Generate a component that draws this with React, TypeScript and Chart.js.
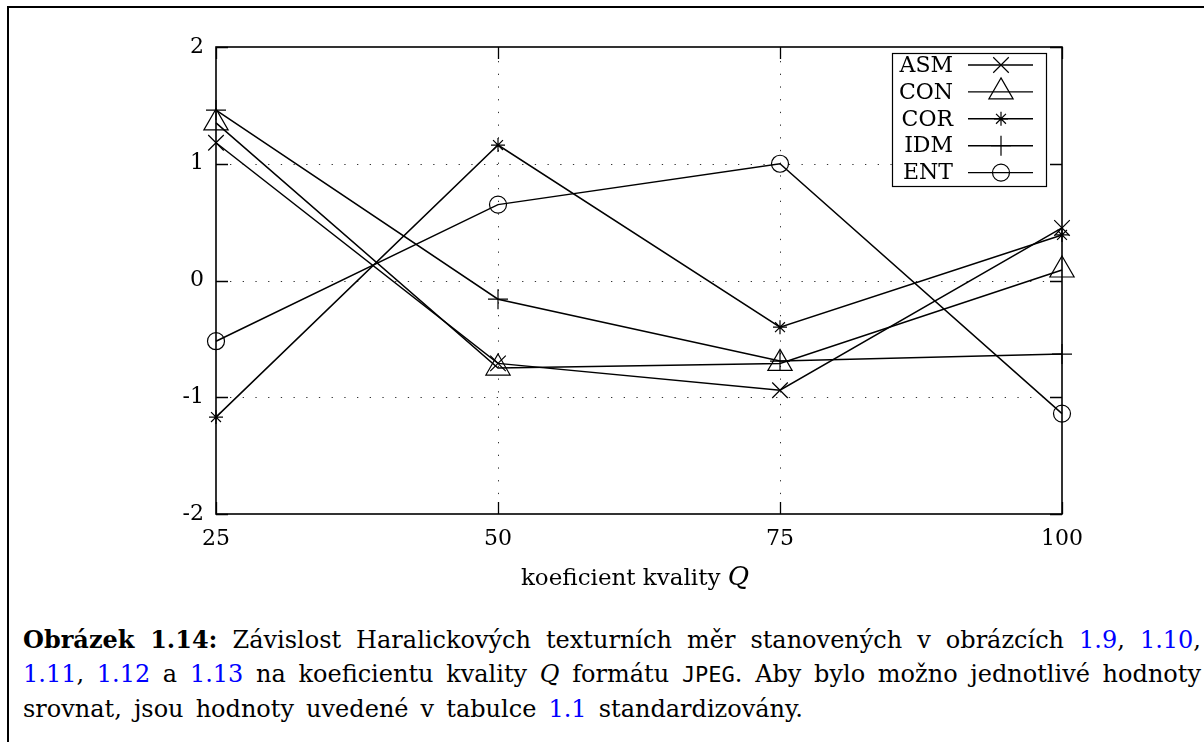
import React, { useEffect, useRef } from "react";
import { Chart, registerables } from "chart.js";

Chart.register(...registerables);

// ---- data ----
const qualityLevels = [25, 50, 75, 100];
const seriesLabels = ["ASM", "CON", "COR", "IDM", "ENT"];
const asmValues = [1.18, -0.71, -0.94, 0.45];
const conValues = [1.35, -0.75, -0.71, 0.09];
const corValues = [-1.17, 1.16, -0.4, 0.39];
const idmValues = [1.46, -0.16, -0.69, -0.63];
const entValues = [-0.52, 0.65, 1.0, -1.14];
const xTickValues = [25, 50, 75, 100];
const yTickValues = [-2, -1, 0, 1, 2];

const seriesValues = [asmValues, conValues, corValues, idmValues, entValues];
const markerStyles = ["crossRot", "triangle", "star", "cross", "circle"];
const markerRadii = [11, 14, 7, 10, 8.5];

const FONT = '"DejaVu Serif", serif';

function drawMarker(ctx: CanvasRenderingContext2D, style: string, x: number, y: number, r: number) {
  ctx.beginPath();
  const d = r * Math.SQRT1_2;
  if (style === "crossRot" || style === "star") {
    ctx.moveTo(x - d, y - d);
    ctx.lineTo(x + d, y + d);
    ctx.moveTo(x - d, y + d);
    ctx.lineTo(x + d, y - d);
  }
  if (style === "cross" || style === "star") {
    ctx.moveTo(x - r, y);
    ctx.lineTo(x + r, y);
    ctx.moveTo(x, y - r);
    ctx.lineTo(x, y + r);
  }
  if (style === "triangle") {
    let rad = 0;
    ctx.moveTo(x + Math.sin(rad) * r, y - Math.cos(rad) * r);
    rad += (2 * Math.PI) / 3;
    ctx.lineTo(x + Math.sin(rad) * r, y - Math.cos(rad) * r);
    rad += (2 * Math.PI) / 3;
    ctx.lineTo(x + Math.sin(rad) * r, y - Math.cos(rad) * r);
    ctx.closePath();
  }
  if (style === "circle") {
    ctx.arc(x, y, r, 0, Math.PI * 2);
  }
  ctx.stroke();
}

const framePlugin = {
  id: "gnuFrame",
  beforeDatasetsDraw(chart: any) {
    const { ctx, chartArea: a, scales } = chart;
    const xs = scales.x;
    const ys = scales.y;
    ctx.save();
    // dotted grid
    ctx.strokeStyle = "#333";
    ctx.lineWidth = 1;
    ctx.setLineDash([1.3, 11.4]);
    yTickValues.forEach((v) => {
      if (v <= ys.min || v >= ys.max) return;
      const py = Math.round(ys.getPixelForValue(v)) + 0.5;
      ctx.beginPath();
      ctx.moveTo(a.left + 14, py);
      ctx.lineTo(a.right - 14, py);
      ctx.stroke();
    });
    xTickValues.forEach((v) => {
      if (v <= xs.min || v >= xs.max) return;
      const px = Math.round(xs.getPixelForValue(v)) + 0.5;
      ctx.beginPath();
      ctx.moveTo(px, a.top + 14);
      ctx.lineTo(px, a.bottom - 14);
      ctx.stroke();
    });
    ctx.setLineDash([]);
    // inward major ticks on all four sides
    ctx.strokeStyle = "#000";
    ctx.lineWidth = 1.3;
    ctx.beginPath();
    yTickValues.forEach((v) => {
      const py = Math.round(ys.getPixelForValue(v)) + 0.5;
      ctx.moveTo(a.left, py);
      ctx.lineTo(a.left + 12, py);
      ctx.moveTo(a.right, py);
      ctx.lineTo(a.right - 12, py);
    });
    xTickValues.forEach((v) => {
      const px = Math.round(xs.getPixelForValue(v)) + 0.5;
      ctx.moveTo(px, a.top);
      ctx.lineTo(px, a.top + 12);
      ctx.moveTo(px, a.bottom);
      ctx.lineTo(px, a.bottom - 12);
    });
    ctx.stroke();
    // border
    ctx.lineWidth = 1.6;
    ctx.strokeRect(a.left, a.top, a.right - a.left, a.bottom - a.top);
    ctx.restore();
  },
};

const legendPlugin = {
  id: "boxLegend",
  afterDraw(chart: any) {
    const { ctx, chartArea: a } = chart;
    const bx = a.right - 170;
    const by = a.top + 6;
    const bw = 154;
    const bh = 133;
    ctx.save();
    ctx.fillStyle = "#fff";
    ctx.fillRect(bx, by, bw, bh);
    ctx.strokeStyle = "#000";
    ctx.lineWidth = 1.2;
    ctx.strokeRect(bx + 0.5, by + 0.5, bw, bh);
    ctx.font = `22px ${FONT}`;
    ctx.textAlign = "right";
    ctx.textBaseline = "middle";
    ctx.fillStyle = "#000";
    chart.data.datasets.forEach((ds: any, i: number) => {
      const cy = by + 12 + i * 26.9;
      ctx.fillText(ds.label, a.right - 109, cy + 1);
      ctx.lineWidth = 1.4;
      ctx.beginPath();
      ctx.moveTo(a.right - 94, cy);
      ctx.lineTo(a.right - 29, cy);
      ctx.stroke();
      ctx.lineWidth = 1.2;
      drawMarker(ctx, ds.pointStyle, a.right - 61, cy, ds.pointRadius);
    });
    ctx.restore();
  },
};

const axisTitlePlugin = {
  id: "axisTitle",
  afterDraw(chart: any) {
    const { ctx, chartArea: a } = chart;
    ctx.save();
    ctx.fillStyle = "#000";
    ctx.textAlign = "left";
    ctx.textBaseline = "alphabetic";
    const main = "koeficient kvality ";
    ctx.font = `23px ${FONT}`;
    const w1 = ctx.measureText(main).width;
    ctx.font = `italic 26px ${FONT}`;
    const w2 = ctx.measureText("Q").width;
    const cx = (a.left + a.right) / 2 - 4;
    const start = cx - (w1 + w2) / 2;
    const base = a.bottom + 71;
    ctx.font = `23px ${FONT}`;
    ctx.fillText(main, start, base);
    ctx.font = `italic 26px ${FONT}`;
    ctx.fillText("Q", start + w1, base);
    ctx.restore();
  },
};

const linkStyle: React.CSSProperties = { color: "#0000ff" };

export default function App() {
  const canvasRef = useRef<HTMLCanvasElement | null>(null);

  useEffect(() => {
    const canvas = canvasRef.current;
    if (!canvas) return;
    const tickFont = { family: FONT, size: 22 };
    const chart = new Chart(canvas, {
      type: "line",
      data: {
        datasets: seriesLabels.map((label, i) => ({
          label,
          data: qualityLevels.map((q, j) => ({ x: q, y: seriesValues[i][j] })),
          borderColor: "#000",
          borderWidth: 1.5,
          backgroundColor: "rgba(0,0,0,0)",
          pointStyle: markerStyles[i] as any,
          pointRadius: markerRadii[i],
          pointBorderColor: "#000",
          pointBorderWidth: 1.2,
          pointBackgroundColor: "rgba(0,0,0,0)",
          tension: 0,
          fill: false,
          clip: false as any,
        })),
      },
      options: {
        responsive: false,
        animation: false,
        devicePixelRatio: 1,
        events: [],
        layout: { padding: { top: 47, right: 142, left: 0, bottom: 0 } },
        plugins: { legend: { display: false }, tooltip: { enabled: false } },
        scales: {
          x: {
            type: "linear",
            min: 25,
            max: 100,
            afterFit(s: any) {
              s.height = 86;
            },
            afterBuildTicks(s: any) {
              s.ticks = xTickValues.map((v) => ({ value: v }));
            },
            grid: { display: false, drawTicks: false },
            border: { display: false },
            ticks: {
              padding: 12,
              color: "#000",
              font: tickFont,
              maxRotation: 0,
              autoSkip: false,
              callback: (v: any) => String(v),
            },
          },
          y: {
            type: "linear",
            min: -2,
            max: 2,
            afterFit(s: any) {
              s.width = 216;
            },
            afterBuildTicks(s: any) {
              s.ticks = yTickValues.map((v) => ({ value: v }));
            },
            grid: { display: false, drawTicks: false },
            border: { display: false },
            ticks: {
              padding: 12,
              color: "#000",
              font: tickFont,
              autoSkip: false,
              callback: (v: any) => String(v),
            },
          },
        },
      } as any,
      plugins: [framePlugin, legendPlugin, axisTitlePlugin],
    });
    return () => chart.destroy();
  }, []);

  const lineBase: React.CSSProperties = {
    textAlign: "justify",
    textAlignLast: "justify" as any,
  };

  return (
    <div
      style={{
        position: "fixed",
        left: 0,
        top: 0,
        width: 1204,
        height: 742,
        overflow: "hidden",
        background: "#fff",
      }}
    >
      <div
        style={{
          position: "absolute",
          left: 7,
          top: 6,
          width: 1197,
          height: 736,
          borderTop: "2px solid #000",
          borderLeft: "2px solid #000",
          boxSizing: "border-box",
        }}
      />
      <canvas
        ref={canvasRef}
        width={1204}
        height={600}
        style={{ position: "absolute", left: 0, top: 0 }}
      />
      <div
        style={{
          position: "absolute",
          left: 23,
          top: 623,
          width: 1178,
          fontFamily: FONT,
          fontSize: 24,
          lineHeight: "34px",
          color: "#000",
        }}
      >
        <div style={lineBase}>
          <b>Obrázek 1.14:</b> Závislost Haralickových texturních měr stanovených v obrázcích{" "}
          <span style={linkStyle}>1.9</span>, <span style={linkStyle}>1.10</span>,
        </div>
        <div style={lineBase}>
          <span style={linkStyle}>1.11</span>, <span style={linkStyle}>1.12</span> a{" "}
          <span style={linkStyle}>1.13</span> na koeficientu kvality <i>Q</i> formátu{" "}
          <span style={{ fontFamily: '"DejaVu Sans Mono", monospace', fontSize: 22 }}>JPEG</span>. Aby
          bylo možno jednotlivé hodnoty
        </div>
        <div style={{ ...lineBase, width: 780 }}>
          srovnat, jsou hodnoty uvedené v tabulce <span style={linkStyle}>1.1</span> standardizovány.
        </div>
      </div>
    </div>
  );
}
